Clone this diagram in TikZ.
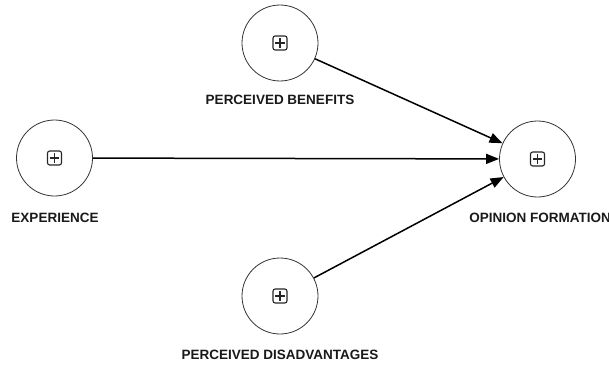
\documentclass[tikz,border=0pt]{standalone}
\usepackage{fontspec}
\setmainfont{Liberation Sans}
\usetikzlibrary{arrows.meta}
\tikzset{
  concept/.style={circle, draw=black!80, line width=0.8pt, minimum size=76pt, inner sep=0pt,
    path picture={
      \draw[line width=1.1pt, rounded corners=2.2pt, black!85]
        ([shift={(-7pt,-7pt)}]path picture bounding box.center) rectangle ++(14pt,14pt);
      \draw[line width=1.1pt, black!85]
        ([shift={(-4.8pt,0pt)}]path picture bounding box.center) -- ++(9.6pt,0pt)
        ([shift={(0pt,-4.8pt)}]path picture bounding box.center) -- ++(0pt,9.6pt);
    }},
  lbl/.style={font=\bfseries\fontsize{13.5}{15}\selectfont, inner sep=0pt, text=black!90},
  link/.style={line width=1.5pt, -{Triangle[length=13pt,width=10pt]}}
}
\begin{document}
\begin{tikzpicture}[x=1pt,y=-1pt]
\useasboundingbox (0,0) rectangle (609,369);
\node[concept] (ben) at (280,43) {};
\node[concept] (exp) at (54.5,158) {};
\node[concept] (opi) at (537.5,159) {};
\node[concept] (dis) at (280,296) {};
\node[lbl] (benl) at (280,100) {PERCEIVED BENEFITS};
\node[lbl] (expl) at (55,218) {EXPERIENCE};
\node[lbl] (opil) at (540,218) {OPINION FORMATION};
\node[lbl] (disl) at (280,355) {PERCEIVED DISADVANTAGES};
\draw[link] (ben) -- (opi);
\draw[link] (exp) -- (opi);
\draw[link] (dis) -- (opi);
\end{tikzpicture}
\end{document}
